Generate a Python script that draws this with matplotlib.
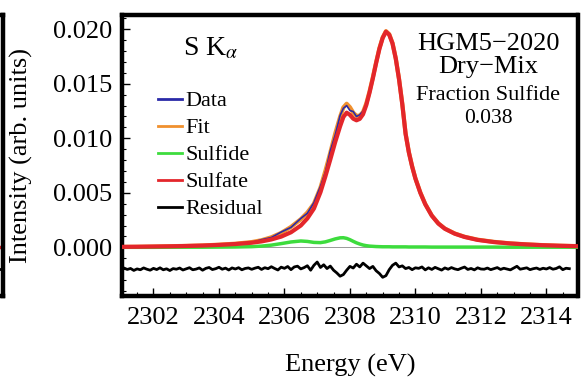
import numpy as np
import matplotlib
matplotlib.use('Agg')
import matplotlib.pyplot as plt

plt.rcParams['font.family'] = ['Liberation Serif', 'DejaVu Serif']
plt.rcParams['mathtext.fontset'] = 'stix'

# Energy grid (eV) for the smooth curves
energy = [2301.0, 2301.5, 2302.0, 2302.5, 2303.0, 2303.5, 2304.0, 2304.5, 2305.0, 2305.3,
          2305.6, 2305.9, 2306.2, 2306.5, 2306.7, 2306.9, 2307.1, 2307.25, 2307.4, 2307.55,
          2307.7, 2307.8, 2307.9, 2308.0, 2308.1, 2308.2, 2308.3, 2308.4, 2308.5, 2308.6,
          2308.7, 2308.8, 2308.9, 2309.0, 2309.1, 2309.2, 2309.3, 2309.4, 2309.5, 2309.6,
          2309.7, 2309.8, 2309.9, 2310.0, 2310.15, 2310.3, 2310.5, 2310.7, 2310.9, 2311.2,
          2311.5, 2311.9, 2312.4, 2312.9, 2313.4, 2313.9, 2314.4, 2314.95]

data = [0.00006, 0.00004, 0.00009, 0.00012, 0.00011, 0.00020, 0.00022, 0.00038, 0.00045, 0.00070,
        0.00090, 0.00140, 0.00183, 0.00265, 0.00312, 0.00410, 0.00560, 0.00690, 0.00885, 0.01030,
        0.01210, 0.01275, 0.01300, 0.01255, 0.01245, 0.01200, 0.01215, 0.01250, 0.01315, 0.01445,
        0.01565, 0.01705, 0.01815, 0.01930, 0.01965, 0.01960, 0.01880, 0.01725, 0.01550, 0.01320,
        0.01050, 0.00880, 0.00735, 0.00640, 0.00510, 0.00392, 0.00298, 0.00215, 0.00178, 0.00124,
        0.00102, 0.00068, 0.00055, 0.00034, 0.00030, 0.00018, 0.00019, 0.00010]

fit = [0.00004, 0.00005, 0.00007, 0.00010, 0.00013, 0.00017, 0.00024, 0.00033, 0.00048, 0.00065,
       0.00092, 0.00132, 0.00187, 0.00258, 0.00319, 0.00400, 0.00548, 0.00700, 0.00868, 0.01042,
       0.01197, 0.01283, 0.01317, 0.01285, 0.01235, 0.01206, 0.01208, 0.01241, 0.01320, 0.01431,
       0.01559, 0.01697, 0.01826, 0.01925, 0.01983, 0.01955, 0.01874, 0.01734, 0.01544, 0.01314,
       0.01044, 0.00873, 0.00743, 0.00633, 0.00503, 0.00398, 0.00292, 0.00220, 0.00172, 0.00127,
       0.00097, 0.00070, 0.00050, 0.00036, 0.00027, 0.00020, 0.00015, 0.00011]

sulfide = [0.0, 0.0, 0.0, 0.00001, 0.00001, 0.00001, 0.00002, 0.00003, 0.00006, 0.00011,
           0.00020, 0.00034, 0.00049, 0.00058, 0.00054, 0.00045, 0.00043, 0.00050, 0.00063, 0.00077,
           0.00087, 0.00088, 0.00082, 0.00070, 0.00055, 0.00041, 0.00030, 0.00021, 0.00015, 0.00011,
           0.00009, 0.00007, 0.00006, 0.00005, 0.00005, 0.00005, 0.00004, 0.00004, 0.00004, 0.00004,
           0.00004, 0.00003, 0.00003, 0.00003, 0.00003, 0.00003, 0.00002, 0.00002, 0.00002, 0.00002,
           0.00002, 0.00002, 0.00002, 0.00001, 0.00001, 0.00001, 0.00001, 0.00001]

sulfate = [0.00004, 0.00005, 0.00007, 0.00009, 0.00012, 0.00016, 0.00022, 0.00030, 0.00042, 0.00054,
           0.00072, 0.00098, 0.00138, 0.00200, 0.00265, 0.00355, 0.00505, 0.00650, 0.00805, 0.00965,
           0.01110, 0.01195, 0.01235, 0.01215, 0.01180, 0.01165, 0.01178, 0.01220, 0.01305, 0.01420,
           0.01550, 0.01690, 0.01820, 0.01920, 0.01978, 0.01950, 0.01870, 0.01730, 0.01540, 0.01310,
           0.01040, 0.00870, 0.00740, 0.00630, 0.00500, 0.00395, 0.00290, 0.00218, 0.00170, 0.00125,
           0.00095, 0.00068, 0.00048, 0.00035, 0.00026, 0.00019, 0.00014, 0.00010]

# Residual (offset, units of 1e-4), sampled every 0.1 eV from 2301.0 eV
residual_e4 = [
    -21.0, -19.0, -20.3, -19.4, -21.2, -19.8, -20.6, -18.9, -20.1, -21.0,
    -19.3, -20.4, -18.8, -20.6, -19.7, -21.3, -19.5, -20.1, -19.0, -20.8,
    -19.8, -18.7, -20.6, -20.0, -18.9, -21.0, -19.3, -18.5, -20.4, -19.6,
    -18.3, -20.1, -19.1, -20.8, -18.9, -19.9, -18.7, -20.6, -19.4, -18.9,
    -20.2,
    -19.1, -18.3, -20.3, -18.7, -19.6, -17.8, -19.4, -20.8, -18.2, -19.3,
    -17.6, -20.5, -18.0, -17.3, -19.8,
    -18.6, -16.9, -21.0, -16.5, -13.5,
    -18.5, -16.0, -19.5, -17.2, -21.0, -23.5, -26.5, -25.0, -21.0, -17.5,
    -19.0, -15.5, -18.0, -14.5, -17.0, -19.5, -17.5, -21.5, -24.0, -27.5,
    -26.0, -20.5, -16.5, -14.5, -18.0, -17.0, -19.5, -18.5, -20.5, -18.8,
    -19.3, -18.0, -20.7, -18.8, -20.3, -18.4, -19.7, -20.9, -18.9, -20.1,
    -18.6, -19.8, -20.5, -19.2, -18.1, -20.3, -19.4, -20.7, -18.8, -19.9,
    -20.1, -19.0, -20.5, -19.6, -18.6, -20.3, -19.2, -19.9, -20.7, -19.0,
    -17.4, -20.1, -19.4, -18.8, -20.5, -19.6, -19.0, -20.3, -19.2, -19.9,
    -18.6, -20.1, -19.4, -17.9, -20.5, -19.2, -19.6,
]
residual_energy = 2301.0 + 0.1 * np.arange(len(residual_e4))
residual = np.array(residual_e4) * 1e-4

xticks = [2302, 2304, 2306, 2308, 2310, 2312, 2314]
yticks = [0.000, 0.005, 0.010, 0.015, 0.020]

W, H = 582, 381
fig = plt.figure(figsize=(W / 100, H / 100), dpi=100)
L, R, T, B = 121.7, 577.5, 15.0, 295.5
ax = fig.add_axes([L / W, 1 - B / H, (R - L) / W, (B - T) / H])
ylim = (-0.00442, 0.02131)

# cropped neighbouring panel at the left edge
ax0 = fig.add_axes([-0.2, 1 - B / H, 0.2 + 2.5 / W, (B - T) / H])
ax0.set_xticks([]); ax0.set_yticks([])
for s in ax0.spines.values():
    s.set_linewidth(3.2)
ax0.axhline(0, color='#e3262b', lw=2.5)
ax0.axhline(-0.002, color='black', lw=2)
ax0.set_ylim(ylim)

ax.axhline(0, color='#999999', lw=0.7, zorder=1)
ax.plot(energy, fit, color='#f0902e', lw=3.0, label='Fit', zorder=2)
ax.plot(energy, data, color='#2a2aa8', lw=1.2, label='Data', zorder=3)
ax.plot(energy, sulfide, color='#3ddc3d', lw=2.5, label='Sulfide', zorder=4)
ax.plot(energy, sulfate, color='#e3262b', lw=3.0, label='Sulfate', zorder=5)
ax.plot(residual_energy, residual, color='black', lw=2.0, label='Residual', zorder=6)

ax.set_xlim(2301.03, 2314.95)
ax.set_ylim(ylim)
ax.set_xticks(xticks)
ax.set_yticks(yticks)
ax.set_yticklabels(['%.3f' % v for v in yticks])
ax.xaxis.set_minor_locator(matplotlib.ticker.MultipleLocator(0.5))
ax.yaxis.set_minor_locator(matplotlib.ticker.MultipleLocator(0.001))
ax.tick_params(which='both', direction='in', labelsize=19)
ax.tick_params(which='major', length=6, width=1)
ax.tick_params(which='minor', length=3, width=0.8)
ax.tick_params(axis='y', pad=7)
ax.tick_params(axis='x', pad=8)
for s in ax.spines.values():
    s.set_linewidth(3.2)

ax.set_xlabel('Energy (eV)', fontsize=19)
ax.xaxis.set_label_coords(0.501, -0.209)
ax.set_ylabel('Intensity (arb. units)', fontsize=19)
ax.yaxis.set_label_coords(-0.195, 0.5)

ax.text(0.1345, 0.857, r'S K$_\alpha$', transform=ax.transAxes, fontsize=20,
        ha='left', va='baseline')
ax.text(0.8037, 0.875, 'HGM5\u22122020', transform=ax.transAxes, fontsize=19,
        ha='center', va='baseline')
ax.text(0.8037, 0.793, 'Dry\u2212Mix', transform=ax.transAxes, fontsize=19,
        ha='center', va='baseline')
ax.text(0.8037, 0.697, 'Fraction Sulfide', transform=ax.transAxes, fontsize=16,
        ha='center', va='baseline')
ax.text(0.8037, 0.615, '0.038', transform=ax.transAxes, fontsize=15.5,
        ha='center', va='baseline')

h, l = ax.get_legend_handles_labels()
order = [l.index(n) for n in ['Data', 'Fit', 'Sulfide', 'Sulfate', 'Residual']]
leg = ax.legend([h[i] for i in order], [l[i] for i in order], loc='upper left',
                bbox_to_anchor=(0.08, 0.73), frameon=False, fontsize=16,
                handlelength=1.08, handletextpad=0.14, labelspacing=0.29,
                borderpad=0, borderaxespad=0)
for line in leg.get_lines():
    line.set_linewidth(2.0)

fig.savefig('out.png', dpi=100)
